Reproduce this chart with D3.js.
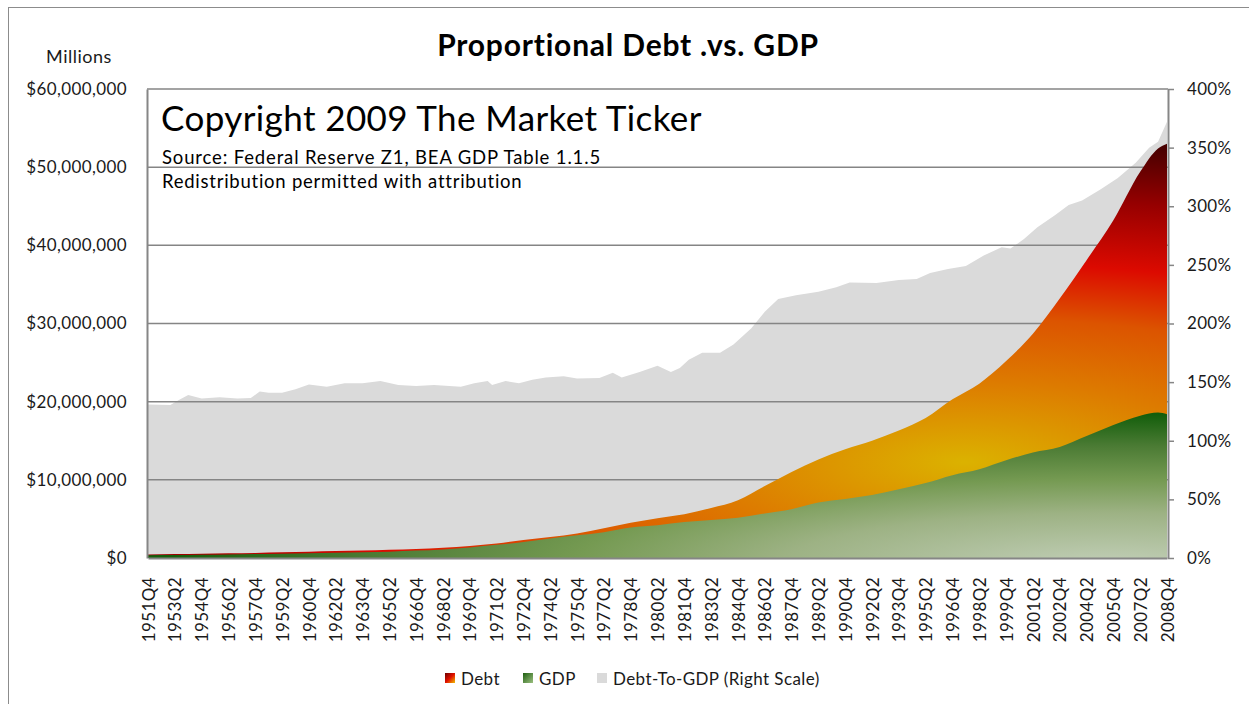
<!DOCTYPE html>
<html>
<head>
<meta charset="utf-8">
<script src="https://cdn.jsdelivr.net/npm/d3@7"></script>
<style>
body { margin: 0; background: #fff; }
svg text { font-family: Lato, "Open Sans", sans-serif; fill: #1a1a1a; }
</style>
</head>
<body>
<div id="chart"></div>
<script>
// data (values in millions of dollars, ratio as fraction)
var tickLabels = ["1951Q4", "1953Q2", "1954Q4", "1956Q2", "1957Q4", "1959Q2", "1960Q4", "1962Q2",
    "1963Q4", "1965Q2", "1966Q4", "1968Q2", "1969Q4", "1971Q2", "1972Q4", "1974Q2", "1975Q4",
    "1977Q2", "1978Q4", "1980Q2", "1981Q4", "1983Q2", "1984Q4", "1986Q2", "1987Q4", "1989Q2",
    "1990Q4", "1992Q2", "1993Q4", "1995Q2", "1996Q4", "1998Q2", "1999Q4", "2001Q2", "2002Q4",
    "2004Q2", "2005Q4", "2007Q2", "2008Q4"];
var quarters = ["1951Q4", "1953Q2", "1954Q4", "1956Q2", "1957Q4", "1959Q2", "1960Q4", "1962Q2",
    "1963Q4", "1965Q2", "1966Q4", "1968Q2", "1969Q4", "1971Q2", "1972Q4", "1974Q2", "1975Q4",
    "1977Q2", "1978Q4", "1980Q2", "1981Q4", "1983Q2", "1984Q4", "1986Q2", "1987Q4", "1989Q2",
    "1990Q4", "1992Q2", "1993Q4", "1995Q2", "1996Q4", "1998Q2", "1999Q4", "2001Q2", "2002Q4",
    "2004Q2", "2005Q4", "2007Q2", "2008Q2", "2008Q4"];
var debt = [450000, 500000, 550000, 600000, 650000, 720000, 800000, 880000, 950000, 1050000,
    1150000, 1300000, 1550000, 1850000, 2300000, 2700000, 3150000, 3800000, 4500000, 5100000,
    5600000, 6400000, 7400000, 9200000, 11000000, 12600000, 13900000, 15000000, 16300000, 17900000,
    20300000, 22300000, 25200000, 28700000, 33200000, 38100000, 43200000, 49400000, 52400000, 53000000];
var gdp = [350000, 380000, 420000, 460000, 500000, 550000, 600000, 660000, 720000, 800000,
    950000, 1100000, 1350000, 1680000, 2050000, 2500000, 2900000, 3300000, 3900000, 4200000,
    4600000, 4850000, 5150000, 5700000, 6250000, 7100000, 7550000, 8050000, 8800000, 9600000,
    10600000, 11350000, 12500000, 13500000, 14200000, 15600000, 17000000, 18200000, 18600000, 18400000];
var ratioQuarters = ["1951Q4", "1953Q1", "1953Q3", "1954Q1", "1954Q4", "1955Q4", "1956Q4", "1957Q3",
    "1958Q1", "1958Q3", "1959Q2", "1960Q1", "1960Q4", "1961Q4", "1962Q4", "1963Q4", "1964Q4",
    "1965Q4", "1966Q4", "1967Q4", "1969Q2", "1970Q1", "1970Q4", "1971Q1", "1971Q4", "1972Q3",
    "1973Q2", "1974Q1", "1975Q1", "1975Q4", "1977Q1", "1977Q4", "1978Q2", "1979Q2", "1980Q2",
    "1981Q1", "1981Q3", "1982Q1", "1982Q4", "1983Q4", "1984Q3", "1985Q3", "1986Q2", "1987Q1",
    "1988Q1", "1989Q2", "1990Q2", "1991Q1", "1992Q3", "1993Q4", "1994Q4", "1995Q3", "1996Q3",
    "1997Q3", "1998Q3", "1999Q3", "2000Q1", "2000Q4", "2001Q3", "2002Q3", "2003Q2", "2004Q1",
    "2005Q1", "2006Q1", "2007Q1", "2007Q4", "2008Q2", "2008Q4"];
var debtToGdp = [1.31, 1.305, 1.35, 1.39, 1.36, 1.37, 1.36, 1.365,
    1.42, 1.41, 1.41, 1.44, 1.48, 1.46, 1.49, 1.49, 1.51,
    1.475, 1.467, 1.475, 1.46, 1.49, 1.51, 1.475, 1.51, 1.49,
    1.52, 1.54, 1.55, 1.53, 1.535, 1.58, 1.54, 1.586, 1.64,
    1.586, 1.62, 1.69, 1.75, 1.75, 1.82, 1.96, 2.10, 2.21,
    2.24, 2.27, 2.31, 2.35, 2.345, 2.37, 2.38, 2.43, 2.465,
    2.49, 2.58, 2.65, 2.64, 2.72, 2.82, 2.925, 3.01, 3.05,
    3.14, 3.24, 3.37, 3.50, 3.55, 3.72];
var leftTicks = [0, 10000000, 20000000, 30000000, 40000000, 50000000, 60000000];
var rightTicks = [0, 0.5, 1, 1.5, 2, 2.5, 3, 3.5, 4];

// 1) size and plot box
var svgWidth = 1249;
var svgHeight = 704;
var plot = { left: 147, right: 1168, top: 89, bottom: 558 };

var svg = d3.select("#chart")
    .append("svg")
    .attr("width", svgWidth)
    .attr("height", svgHeight);

// quarter label -> running quarter number
function qIndex(q) {
    return (+q.slice(0, 4)) * 4 + (+q.slice(5)) - 1;
}
var rows = quarters.map(function(q, i) {
    return { q: q, debt: debt[i], gdp: gdp[i] };
});
var ratioRows = ratioQuarters.map(function(q, i) {
    return { q: q, ratio: debtToGdp[i] };
});

// 2) scales
var xScale = d3.scaleLinear()
    .domain([qIndex(quarters[0]), qIndex(quarters[quarters.length - 1])])
    .range([plot.left + 1, plot.right - 1]);
var yLeft = d3.scaleLinear()
    .domain([0, 60000000])
    .range([plot.bottom, plot.top]);
var yRight = d3.scaleLinear()
    .domain([0, 4])
    .range([plot.bottom, plot.top]);

// 3) gradients
var defs = svg.append("defs");
var debtGrad = defs.append("radialGradient")
    .attr("id", "debtFill")
    .attr("gradientUnits", "userSpaceOnUse")
    .attr("cx", 965).attr("cy", 462).attr("r", 320)
    .attr("gradientTransform", "translate(965,462) scale(3.3,1) translate(-965,-462)");
[["0", "#dbb200"], ["0.25", "#dd7b00"], ["0.45", "#dc5400"], ["0.62", "#dc0a00"],
 ["0.82", "#970000"], ["1", "#480000"]].forEach(function(s) {
    debtGrad.append("stop").attr("offset", s[0]).attr("stop-color", s[1]);
});
var gdpGrad = defs.append("radialGradient")
    .attr("id", "gdpFill")
    .attr("gradientUnits", "userSpaceOnUse")
    .attr("cx", 1110).attr("cy", 566).attr("r", 152)
    .attr("gradientTransform", "translate(1110,566) scale(6.2,1) translate(-1110,-566)");
[["0", "#c2cfb8"], ["0.35", "#9db284"], ["0.57", "#759a52"], ["0.79", "#4b7b34"],
 ["1", "#135e0b"]].forEach(function(s) {
    gdpGrad.append("stop").attr("offset", s[0]).attr("stop-color", s[1]);
});
var legDebt = defs.append("linearGradient")
    .attr("id", "legDebt").attr("x1", 0).attr("y1", 0).attr("x2", 1).attr("y2", 1);
legDebt.append("stop").attr("offset", "0").attr("stop-color", "#6a0000");
legDebt.append("stop").attr("offset", "0.5").attr("stop-color", "#e01000");
legDebt.append("stop").attr("offset", "1").attr("stop-color", "#f0c000");
var legGdp = defs.append("linearGradient")
    .attr("id", "legGdp").attr("x1", 0).attr("y1", 0).attr("x2", 1).attr("y2", 1);
legGdp.append("stop").attr("offset", "0").attr("stop-color", "#1d5e10");
legGdp.append("stop").attr("offset", "1").attr("stop-color", "#9cc080");

// 4) outer frame
svg.append("rect")
    .attr("x", 8.5).attr("y", 7.5)
    .attr("width", svgWidth + 20).attr("height", svgHeight + 20)
    .attr("fill", "none")
    .attr("stroke", "#8c8c8c");

// 5) areas: ratio (right scale) behind, then gridlines, debt, gdp
var ratioArea = d3.area()
    .x(d => xScale(qIndex(d.q)))
    .y0(yRight(0))
    .y1(d => yRight(d.ratio));
var debtArea = d3.area()
    .curve(d3.curveMonotoneX)
    .x(d => xScale(qIndex(d.q)))
    .y0(yLeft(0))
    .y1(d => yLeft(d.debt));
var gdpArea = d3.area()
    .curve(d3.curveMonotoneX)
    .x(d => xScale(qIndex(d.q)))
    .y0(yLeft(0))
    .y1(d => yLeft(d.gdp));

svg.append("path")
    .datum(ratioRows)
    .attr("d", ratioArea)
    .attr("fill", "#dadada");

svg.append("g")
    .selectAll("line")
    .data(leftTicks.slice(1))
    .enter()
    .append("line")
    .attr("x1", plot.left).attr("x2", plot.right)
    .attr("y1", d => yLeft(d)).attr("y2", d => yLeft(d))
    .attr("stroke", "#858585")
    .attr("stroke-width", 1.5);

svg.append("path")
    .datum(rows)
    .attr("d", debtArea)
    .attr("fill", "url(#debtFill)");

svg.append("path")
    .datum(rows)
    .attr("d", gdpArea)
    .attr("fill", "url(#gdpFill)");

// 6) axes
var leftAxis = d3.axisLeft(yLeft)
    .tickValues(leftTicks)
    .tickSize(0)
    .tickPadding(20)
    .tickFormat(d => "$" + d3.format(",")(d));
svg.append("g")
    .attr("transform", `translate(${plot.left}, 0)`)
    .call(leftAxis)
    .call(g => g.select(".domain").attr("stroke", "#868686").attr("stroke-width", 2))
    .call(g => g.selectAll("text").style("font-size", "17px").style("letter-spacing", "0.4px"));

var rightAxis = d3.axisRight(yRight)
    .tickValues(rightTicks)
    .tickSize(6)
    .tickSizeOuter(0)
    .tickPadding(13)
    .tickFormat(d3.format(".0%"));
svg.append("g")
    .attr("transform", `translate(${plot.right}, 0)`)
    .call(rightAxis)
    .call(g => g.select(".domain").attr("stroke", "#868686").attr("stroke-width", 2))
    .call(g => g.selectAll("line").attr("stroke", "#868686").attr("stroke-width", 1.5))
    .call(g => g.selectAll("text").style("font-size", "17px").style("letter-spacing", "0.3px"));

var bottomAxis = d3.axisBottom(xScale)
    .tickValues(tickLabels.map(qIndex))
    .tickSize(0)
    .tickFormat((d, i) => tickLabels[i]);
svg.append("g")
    .attr("transform", `translate(0, ${plot.bottom})`)
    .call(bottomAxis)
    .call(g => g.select(".domain").attr("stroke", "#868686").attr("stroke-width", 2))
    .call(g => g.selectAll("text")
        .style("font-size", "17px")
        .style("letter-spacing", "0.4px")
        .attr("transform", "rotate(-90)")
        .attr("x", -19)
        .attr("y", 0)
        .attr("dy", "0.36em")
        .style("text-anchor", "end"));

// 7) titles and notes
svg.append("text")
    .attr("x", 628).attr("y", 56)
    .attr("text-anchor", "middle")
    .style("font-size", "30px")
    .style("font-weight", "bold")
    .style("letter-spacing", "0.8px")
    .style("fill", "#000")
    .text("Proportional Debt .vs. GDP");

svg.append("text")
    .attr("x", 79).attr("y", 63)
    .attr("text-anchor", "middle")
    .style("font-size", "18px")
    .style("letter-spacing", "0.5px")
    .text("Millions");

svg.append("text")
    .attr("x", 161).attr("y", 131)
    .style("font-size", "35px")
    .style("letter-spacing", "0.4px")
    .style("fill", "#000")
    .text("Copyright 2009 The Market Ticker");
svg.append("text")
    .attr("x", 162).attr("y", 164)
    .style("font-size", "18.5px")
    .style("letter-spacing", "0.85px")
    .style("fill", "#000")
    .text("Source: Federal Reserve Z1, BEA GDP Table 1.1.5");
svg.append("text")
    .attr("x", 162).attr("y", 188)
    .style("font-size", "18.5px")
    .style("letter-spacing", "0.75px")
    .style("fill", "#000")
    .text("Redistribution permitted with attribution");

// 8) legend
var legendItems = [
    { name: "Debt", fill: "url(#legDebt)", x: 445 },
    { name: "GDP", fill: "url(#legGdp)", x: 523 },
    { name: "Debt-To-GDP (Right Scale)", fill: "#dadada", x: 597 }
];
var legend = svg.append("g");
legend.selectAll("rect")
    .data(legendItems)
    .enter()
    .append("rect")
    .attr("x", d => d.x).attr("y", 673)
    .attr("width", 10).attr("height", 10)
    .attr("fill", d => d.fill);
legend.selectAll("text")
    .data(legendItems)
    .enter()
    .append("text")
    .attr("x", d => d.x + 16).attr("y", 685)
    .style("font-size", "17px")
    .style("letter-spacing", "0.4px")
    .text(d => d.name);
</script>
</body>
</html>
